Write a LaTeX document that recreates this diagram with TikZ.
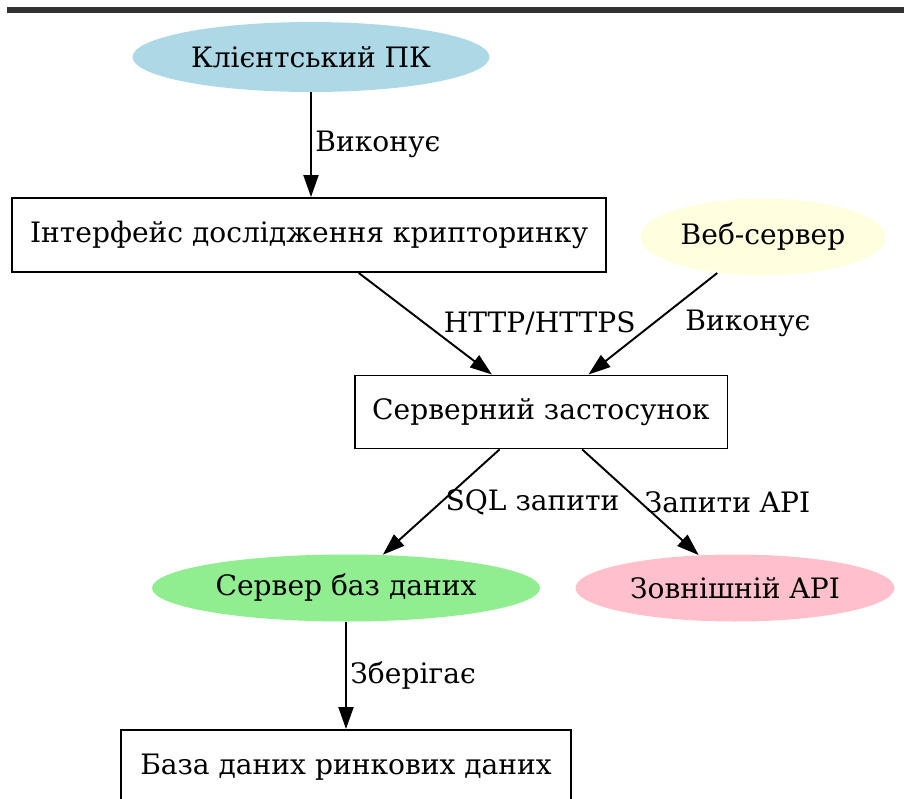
\documentclass[tikz,border=0pt]{standalone}
\usepackage{fontspec}
\setmainfont{DejaVu Serif}
\usepackage{tikz}
\usetikzlibrary{positioning,shapes,arrows.meta,calc}

\definecolor{pcblue}{HTML}{ADD8E6}
\definecolor{webyellow}{HTML}{FFFFE0}
\definecolor{dbgreen}{HTML}{90EE90}
\definecolor{apipink}{HTML}{FFC0CB}
\definecolor{rulegray}{HTML}{333333}

\begin{document}
\begin{tikzpicture}[x=0.02cm,y=-0.02cm,
    every node/.style={font=\fontsize{16}{19}\selectfont},
    box/.style={draw,line width=1.1pt,rectangle,inner sep=0pt,minimum height=1.48cm},
    oval/.style={ellipse,inner sep=0pt,minimum height=1.4cm},
    flow/.style={line width=1.1pt,-{Triangle[length=0.44cm,width=0.3cm]}},
    lbl/.style={right,pos=0.5,inner sep=2pt}]
\useasboundingbox (0,0) rectangle (904,799);
\clip (0,0) rectangle (904,799);

% Top rule
\draw[rulegray,line width=3pt] (7,10) -- (904,10);

% Nodes
\node[oval,fill=pcblue,minimum width=7.14cm] (client) at (311,57) {Клієнтський ПК};
\node[box,minimum width=11.9cm] (ui) at (309,235) {Інтерфейс дослідження крипторинку};
\node[oval,fill=webyellow,minimum width=4.9cm,minimum height=1.54cm] (web) at (763,237) {Веб-сервер};
\node[box,minimum width=7.46cm,minimum height=1.46cm] (app) at (541,412) {Серверний застосунок};
\node[oval,fill=dbgreen,minimum width=7.76cm,minimum height=1.34cm] (dbsrv) at (346,588) {Сервер баз даних};
\node[oval,fill=apipink,minimum width=6.38cm,minimum height=1.34cm] (api) at (735,588) {Зовнішній API};
\node[box,minimum width=9cm] (marketdb) at (346,767) {База даних ринкових даних};

% Connectors
\draw[flow] (client.south) -- (client.south |- ui.north) node[lbl] {Виконує};
\draw[flow] (ui) -- (app) node[lbl,xshift=8pt] {HTTP/HTTPS};
\draw[flow] (web) -- (app) node[lbl,xshift=16pt] {Виконує};
\draw[flow] (app) -- (dbsrv) node[lbl] {SQL запити};
\draw[flow] (app) -- (api) node[lbl] {Запити API};
\draw[flow] (dbsrv) -- (marketdb) node[lbl] {Зберігає};
\end{tikzpicture}
\end{document}
